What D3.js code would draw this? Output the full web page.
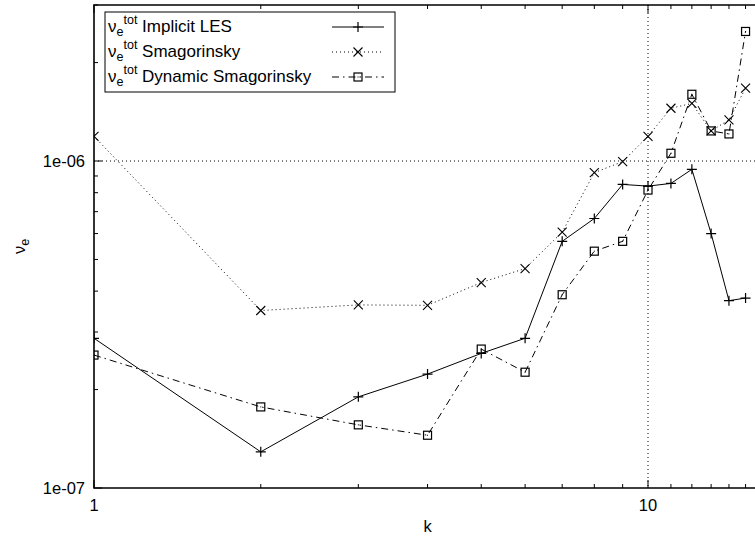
<!DOCTYPE html>
<html><head><meta charset="utf-8">
<script src="https://cdnjs.cloudflare.com/ajax/libs/d3/7.8.5/d3.min.js"></script>
<style>
body{margin:0;background:#fff;}
text{font-family:"Liberation Sans",Arial,Helvetica,sans-serif;fill:#000;}
</style></head><body>
<svg id="chart" width="755" height="540"></svg>
<script>
const kValues = [1,2,3,4,5,6,7,8,9,10,11,12,13,14,15];
const implicitLES = [2.87e-7,1.29e-7,1.90e-7,2.23e-7,2.58e-7,2.87e-7,5.68e-7,6.67e-7,8.48e-7,8.38e-7,8.54e-7,9.43e-7,6.0e-7,3.74e-7,3.81e-7];
const smagorinsky = [1.19e-6,3.49e-7,3.63e-7,3.62e-7,4.25e-7,4.69e-7,6.06e-7,9.21e-7,9.96e-7,1.19e-6,1.45e-6,1.50e-6,1.236e-6,1.336e-6,1.67e-6];
const dynamicSmag = [2.55e-7,1.77e-7,1.56e-7,1.45e-7,2.66e-7,2.26e-7,3.90e-7,5.30e-7,5.68e-7,8.15e-7,1.056e-6,1.60e-6,1.236e-6,1.21e-6,2.49e-6];
const seriesNames = ["Implicit LES","Smagorinsky","Dynamic Smagorinsky"];
const xMajorTicks = [1,10];
const xTickLabels = ["1","10"];
const yMajorTicks = [1e-7,1e-6];
const yTickLabels = ["1e-07","1e-06"];
const xMinorTicks = [2,3,4,5,6,7,8,9,11,12,13,14,15,16];
const yMinorTicks = [2e-7,3e-7,4e-7,5e-7,6e-7,7e-7,8e-7,9e-7,2e-6,3e-6];

const svg = d3.select("#chart");
const L = 94, B = 488, T = 5;
const R = 94 + 554*Math.log10(16);
const x = d3.scaleLog().domain([1,16]).range([L,R]);
const y = d3.scaleLog().domain([1e-7,3e-6]).range([B,T]);

svg.append("defs").append("clipPath").attr("id","clip")
  .append("rect").attr("x",L).attr("y",T).attr("width",R-L).attr("height",B-T);

// grid
const grid = svg.append("g").attr("stroke","#000").attr("stroke-width",1).attr("stroke-dasharray","1,3");
grid.append("line").attr("x1",x(10)).attr("x2",x(10)).attr("y1",T).attr("y2",B);
grid.append("line").attr("x1",L).attr("x2",R).attr("y1",y(1e-6)).attr("y2",y(1e-6));

// ticks
const tk = svg.append("g").attr("stroke","#000").attr("stroke-width",1);
xMajorTicks.forEach(v=>{
  tk.append("line").attr("x1",x(v)).attr("x2",x(v)).attr("y1",B).attr("y2",B-8);
  tk.append("line").attr("x1",x(v)).attr("x2",x(v)).attr("y1",T).attr("y2",T+8);
});
xMinorTicks.forEach(v=>{
  tk.append("line").attr("x1",x(v)).attr("x2",x(v)).attr("y1",B).attr("y2",B-4);
  tk.append("line").attr("x1",x(v)).attr("x2",x(v)).attr("y1",T).attr("y2",T+4);
});
yMajorTicks.forEach(v=>{
  tk.append("line").attr("x1",L).attr("x2",L+8).attr("y1",y(v)).attr("y2",y(v));
});
yMinorTicks.forEach(v=>{
  tk.append("line").attr("x1",L).attr("x2",L+4).attr("y1",y(v)).attr("y2",y(v));
});

// frame
svg.append("path").attr("d",`M${R},${T}H${L}V${B}H${R}`).attr("fill","none").attr("stroke","#000").attr("stroke-width",1.6);

// tick labels
xMajorTicks.forEach((v,i)=>{
  svg.append("text").attr("x",x(v)).attr("y",B+23).attr("text-anchor","middle").attr("font-size",16.5).text(xTickLabels[i]);
});
yMajorTicks.forEach((v,i)=>{
  svg.append("text").attr("x",L-9).attr("y",y(v)+6).attr("text-anchor","end").attr("font-size",16.5).text(yTickLabels[i]);
});

// axis labels
svg.append("text").attr("x",(L+R)/2).attr("y",532).attr("text-anchor","middle").attr("font-size",16.5).text("k");
const yl = svg.append("text").attr("transform",`translate(25,${(T+B)/2}) rotate(-90)`).attr("text-anchor","middle").attr("font-size",16.5);
yl.append("tspan").text("ν");
yl.append("tspan").attr("dy",4).attr("font-size",12.5).text("e");

// series
const series = [
  {vals:implicitLES, dash:null, marker:"plus"},
  {vals:smagorinsky, dash:"1,3", marker:"cross"},
  {vals:dynamicSmag, dash:"7,4,1.5,4", marker:"square"}
];
const line = d3.line().x(d=>x(d[0])).y(d=>y(d[1]));
const plot = svg.append("g").attr("clip-path","url(#clip)");

function drawMarker(g, px, py, type){
  if(type==="plus"){
    g.append("path").attr("d",`M${px-5},${py}H${px+5}M${px},${py-5}V${py+5}`).attr("stroke","#000").attr("stroke-width",1.2).attr("fill","none");
  } else if(type==="cross"){
    g.append("path").attr("d",`M${px-4.5},${py-4.5}L${px+4.5},${py+4.5}M${px-4.5},${py+4.5}L${px+4.5},${py-4.5}`).attr("stroke","#000").attr("stroke-width",1.1).attr("fill","none");
  } else {
    g.append("rect").attr("x",px-4).attr("y",py-4).attr("width",8).attr("height",8).attr("stroke","#000").attr("stroke-width",1.2).attr("fill","none");
    g.append("rect").attr("x",px-0.5).attr("y",py-0.5).attr("width",1).attr("height",1).attr("fill","#000");
  }
}

series.forEach(s=>{
  const pts = kValues.map((k,i)=>[k,s.vals[i]]);
  const p = plot.append("path").attr("d",line(pts)).attr("fill","none").attr("stroke","#000").attr("stroke-width",1);
  if(s.dash) p.attr("stroke-dasharray",s.dash);
  pts.forEach(d=>drawMarker(plot,x(d[0]),y(d[1]),s.marker));
});

// legend
const lg = svg.append("g");
const lgX = 105, lgY = 12, lgW = 290, rowH = 25;
lg.append("rect").attr("x",lgX).attr("y",lgY).attr("width",lgW).attr("height",rowH*3+5).attr("fill","#fff").attr("stroke","#000").attr("stroke-width",1);
series.forEach((s,i)=>{
  const by = lgY + 20 + i*rowH;
  const t = lg.append("text").attr("x",lgX+3).attr("y",by).attr("font-size",17);
  t.append("tspan").text("ν");
  t.append("tspan").attr("dy",4).attr("font-size",12.5).text("e");
  t.append("tspan").attr("dy",-12).attr("font-size",12.5).text("tot");
  t.append("tspan").attr("dy",8).text(" " + seriesNames[i]);
  const ly = by - 5;
  const sl = lg.append("line").attr("x1",332).attr("x2",384).attr("y1",ly).attr("y2",ly).attr("stroke","#000").attr("stroke-width",1);
  if(s.dash) sl.attr("stroke-dasharray",s.dash);
  drawMarker(lg,358,ly,s.marker);
});
</script></body></html>
